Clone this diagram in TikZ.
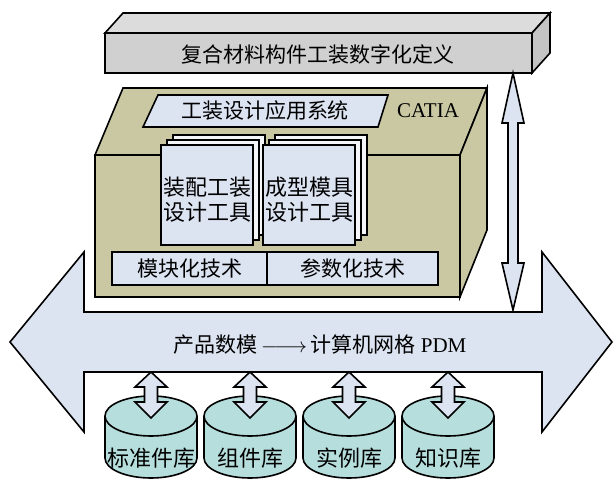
\documentclass[tikz,border=0pt]{standalone}
\usepackage{fontspec}
\setmainfont{Liberation Serif}
\newfontfamily\cjk{Noto Sans CJK SC}
\definecolor{barfront}{HTML}{D0D0D0}
\definecolor{bartop}{HTML}{DCDCDC}
\definecolor{barside}{HTML}{C4C4C4}
\definecolor{olive}{HTML}{C9C8A3}
\definecolor{lblue}{HTML}{DCE3F1}
\definecolor{cyl}{HTML}{B6DEDD}
\definecolor{pagew}{HTML}{F4F6FA}
\tikzset{
  edge/.style={draw=black, line width=1.6pt, line join=miter},
  txt/.style={inner sep=0pt, font=\fontsize{21}{25}\selectfont},
  bigtxt/.style={inner sep=0pt, font=\cjk\fontsize{22}{25}\selectfont, align=center},
}
\begin{document}
\begin{tikzpicture}[x=1pt,y=-1pt]
\useasboundingbox (0,0) rectangle (614,482);
% top bar
\path[edge, fill=bartop] (105,33) -- (123,13) -- (550,13) -- (532,33) -- cycle;
\path[edge, fill=barside] (532,33) -- (550,13) -- (550,53) -- (532,73) -- cycle;
\path[edge, fill=barfront] (105,33) rectangle (532,73);
\node[txt] (title) at (318,54) {\cjk 复合材料构件工装数字化定义};
% vertical double arrow
\path[edge, fill=lblue] (513,73) -- (524,123) -- (518,123) -- (518,263) -- (524,263)
  -- (513,310) -- (502,263) -- (508,263) -- (508,123) -- (502,123) -- cycle;
% CATIA box
\path[edge, fill=olive] (95,155) -- (123,88) -- (487,88) -- (460,155) -- cycle;
\path[edge, fill=olive] (460,155) -- (487,88) -- (487,230) -- (460,297) -- cycle;
\path[edge, fill=olive] (95,155) rectangle (460,297);
\path[edge, fill=lblue] (143,127) -- (158,95) -- (388,95) -- (378,127) -- cycle;
\node[txt] (app) at (265,111) {\cjk 工装设计应用系统};
\node[txt] (catia) at (428,111) {CATIA};
% document stacks
\foreach \x/\n/\t in {161/da/{装配工装\\设计工具}, 263/db/{成型模具\\设计工具}} {
  \path[edge, fill=pagew] (\x+12,135) rectangle (\x+104,235);
  \path[edge, fill=pagew] (\x+6,140) rectangle (\x+98,240);
  \path[edge, fill=lblue] (\x,145) rectangle (\x+92,245);
  \node[bigtxt] (\n) at (\x+46,200) {\t};
}
% technique boxes
\path[edge, fill=lblue] (112,252) rectangle (267,285);
\path[edge, fill=lblue] (267,252) rectangle (438,285);
\node[txt] (mod) at (189.5,268.5) {\cjk 模块化技术};
\node[txt] (par) at (352.5,268.5) {\cjk 参数化技术};
% big double arrow
\path[edge, fill=lblue] (10,342) -- (84,252) -- (84,312) -- (542,312) -- (542,252) -- (612,342)
  -- (542,432) -- (542,372) -- (84,372) -- (84,432) -- cycle;
\node[txt] (pdm) at (320,345) {{\cjk 产品数模}\,$\relbar\joinrel\relbar\joinrel\rightarrow$\,{\cjk 计算机网格}\ PDM};
% cylinders with small arrows
\foreach \cx/\n/\t in {151/c1/标准件库, 250/c2/组件库, 349/c3/实例库, 448/c4/知识库} {
  \path[edge, fill=cyl] (\cx,458) ellipse[x radius=46, y radius=20];
  \fill[cyl] (\cx-45,416) rectangle (\cx+45,458);
  \draw[edge] (\cx-46,416) -- (\cx-46,458) (\cx+46,416) -- (\cx+46,458);
  \path[edge, fill=cyl] (\cx,416) ellipse[x radius=46, y radius=20];
  \node[bigtxt] (\n) at (\cx,458) {\t};
  \path[edge, fill=lblue] (\cx,372) -- (\cx+16,387) -- (\cx+6.5,387) -- (\cx+6.5,402) -- (\cx+16,402)
    -- (\cx,418) -- (\cx-16,402) -- (\cx-6.5,402) -- (\cx-6.5,387) -- (\cx-16,387) -- cycle;
}
\end{tikzpicture}
\end{document}
